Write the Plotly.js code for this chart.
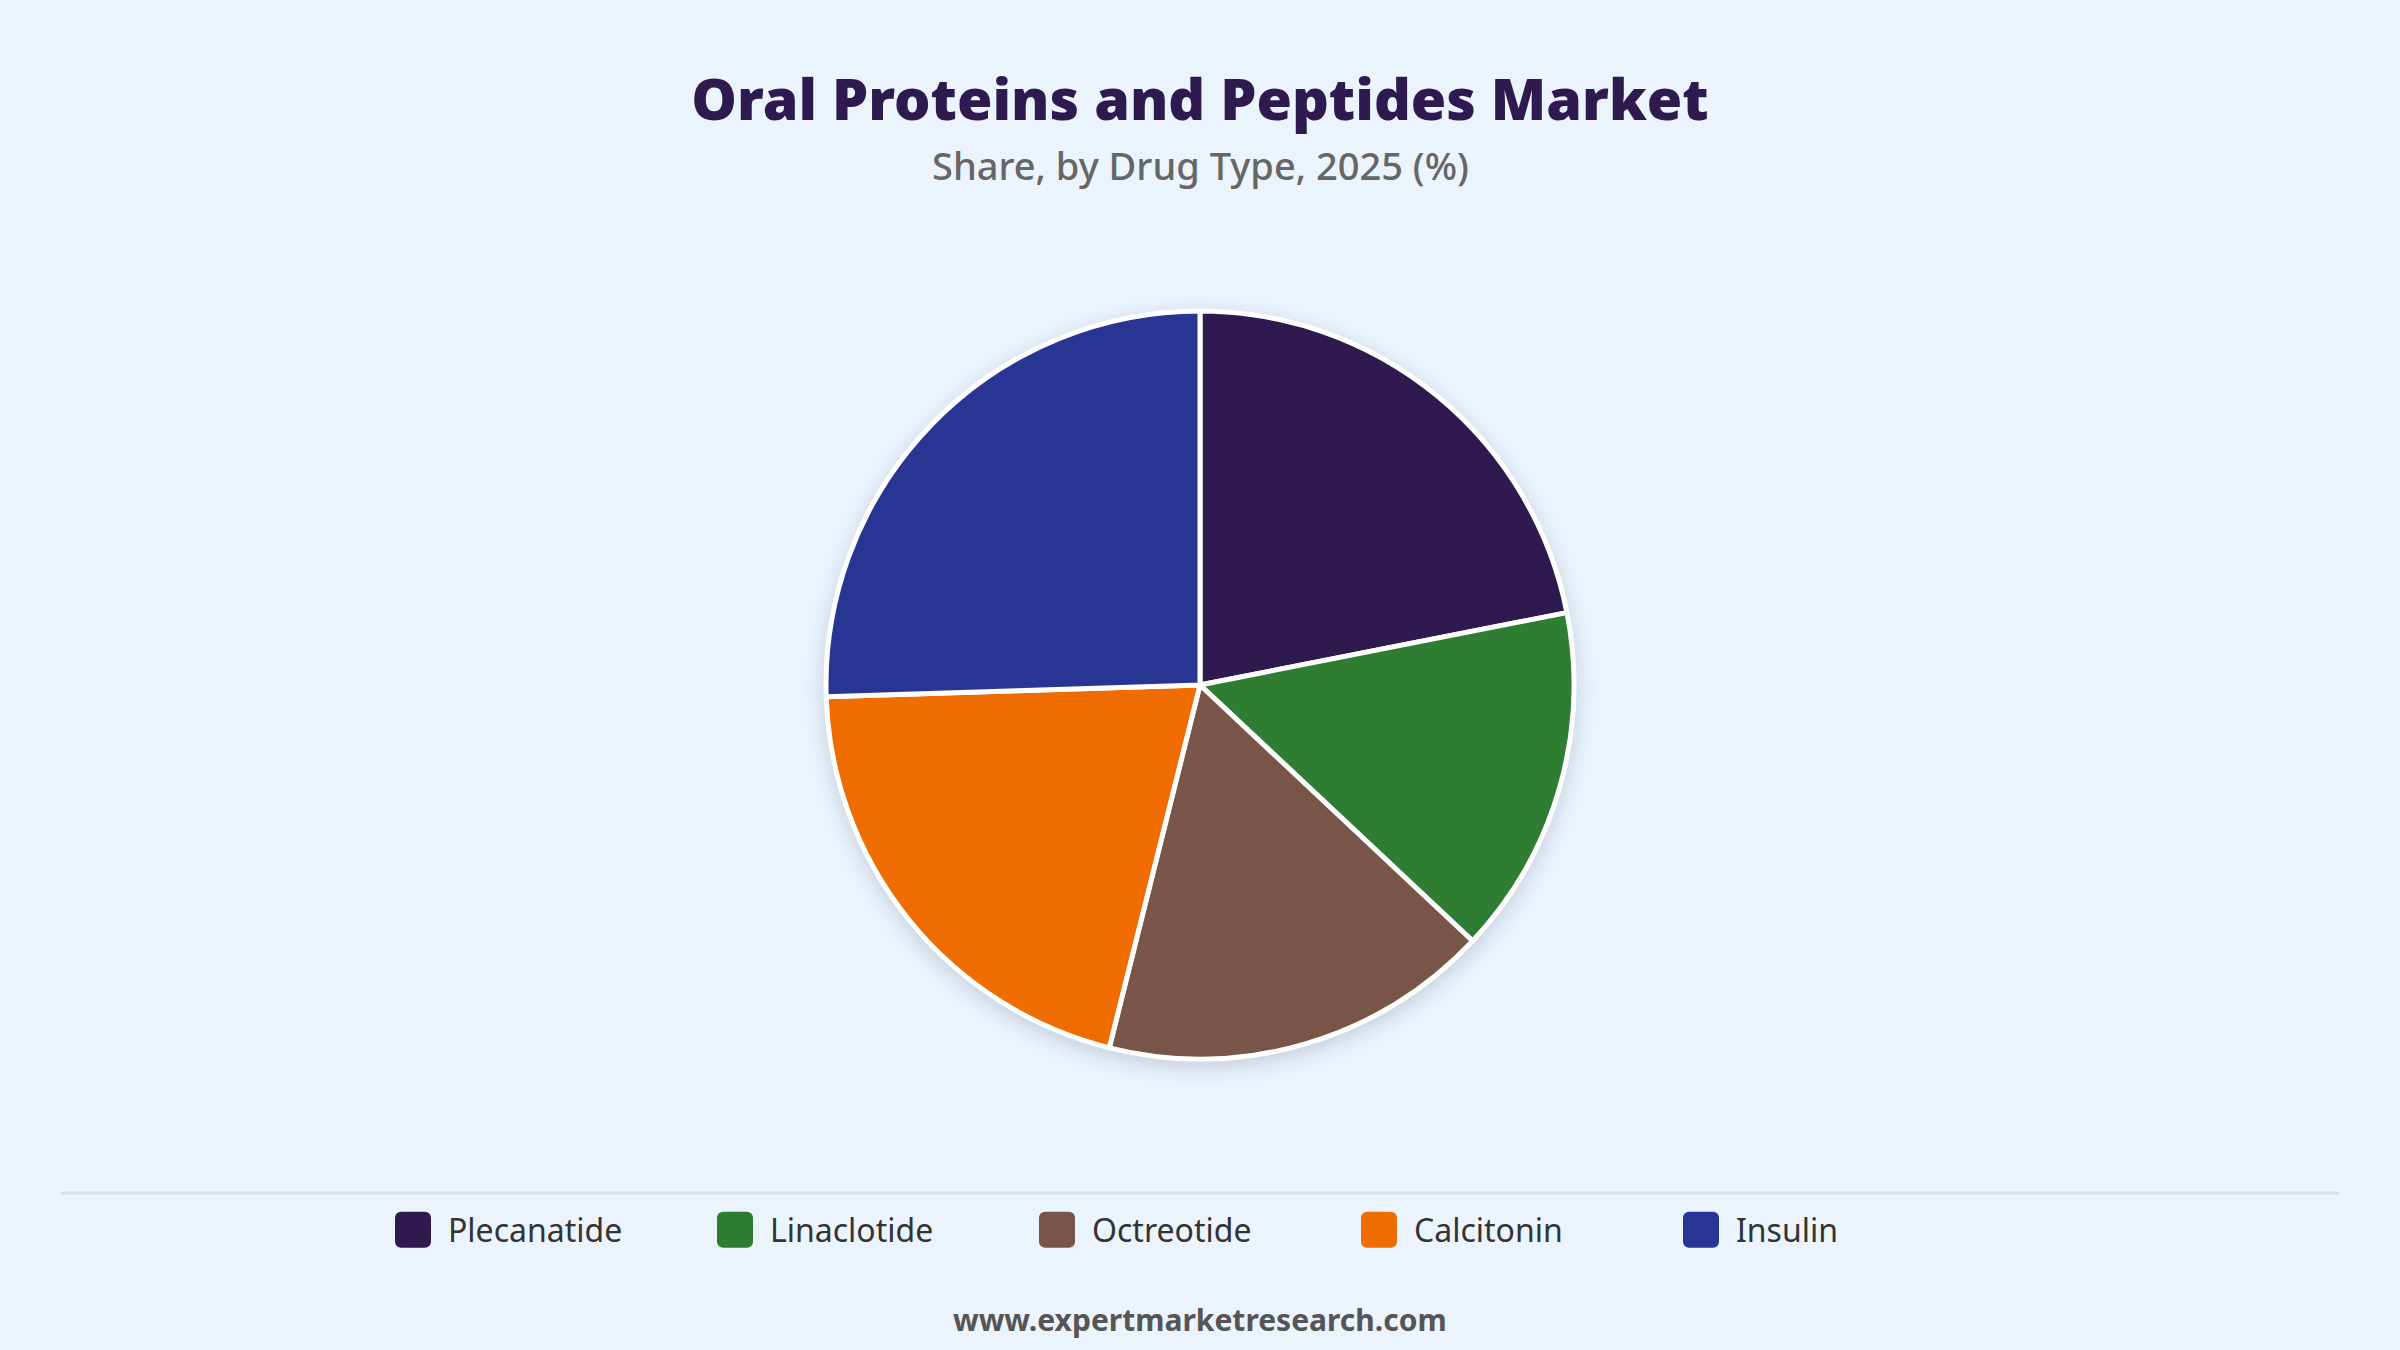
<!DOCTYPE html>
<html>
<head>
<meta charset="utf-8">
<script src="https://cdn.plot.ly/plotly-3.0.1.min.js"></script>
<style>
  html, body { margin: 0; padding: 0; background: #EBF3FC; }
  #chart { width: 2400px; height: 1350px; }
  .pielayer .trace { filter: drop-shadow(0px 6px 10px rgba(60, 80, 110, 0.22)); }
</style>
</head>
<body>
<div id="chart"></div>
<script>
const categories = ["Plecanatide", "Linaclotide", "Octreotide", "Calcitonin", "Insulin"];
const shares = [21.9, 15.1, 16.9, 20.6, 25.5];
const colors = ["#2E1A4F", "#2E7D32", "#795548", "#EF6C00", "#283593"];

const W = 2400, H = 1350;
const pieTop = 311, pieBottom = 1059;

const data = [{
  type: "pie",
  labels: categories,
  values: shares,
  sort: false,
  direction: "clockwise",
  rotation: 0,
  textinfo: "none",
  hoverinfo: "label+percent",
  marker: { colors: colors, line: { color: "#FFFFFF", width: 5 } },
  domain: { x: [0, 1], y: [1 - pieBottom / H, 1 - pieTop / H] }
}];

const layout = {
  width: W, height: H,
  margin: { l: 0, r: 0, t: 0, b: 0 },
  paper_bgcolor: "#EBF3FC",
  plot_bgcolor: "#EBF3FC",
  font: { family: "Noto Sans, Open Sans, sans-serif", color: "#333333" },
  title: {
    text: "Oral Proteins and Peptides Market",
    font: { family: "Noto Sans, Lato, sans-serif", size: 57.4, color: "#2E1A4F", weight: 900 },
    x: 0.5, xanchor: "center",
    y: 1 - 100 / H, yanchor: "middle",
    yref: "paper"
  },
  showlegend: true,
  legend: {
    orientation: "h",
    x: 378 / W, xanchor: "left",
    y: 1 - 1230 / H, yanchor: "middle",
    font: { family: "Noto Sans, Open Sans, sans-serif", size: 32, color: "#333333" },
    itemwidth: 60,
    entrywidth: 247,
    entrywidthmode: "pixels",
    bgcolor: "rgba(0,0,0,0)",
    traceorder: "normal",
    itemclick: false, itemdoubleclick: false
  },
  shapes: [{
    type: "line", xref: "paper", yref: "paper",
    x0: 61 / W, x1: 2339 / W, y0: 1 - 1193 / H, y1: 1 - 1193 / H,
    line: { color: "#DCDFE3", width: 3 }
  }],
  annotations: [
    {
      text: "Share, by Drug Type, 2025 (%)",
      xref: "paper", yref: "paper", x: 0.5, y: 1 - 165 / H,
      xanchor: "center", yanchor: "middle", showarrow: false,
      font: { family: "Noto Sans, Open Sans, sans-serif", size: 38, color: "#666666", weight: 500 }
    },
    {
      text: "<b>www.expertmarketresearch.com</b>",
      xref: "paper", yref: "paper", x: 0.5, y: 1 - 1319 / H,
      xanchor: "center", yanchor: "middle", showarrow: false,
      font: { family: "Noto Sans, Open Sans, sans-serif", size: 30, color: "#555555" }
    }
  ]
};

function styleLegend() {
  const s = 18, r = 6;
  const d = `M${-s + r},${-s}H${s - r}A${r},${r} 0 0 1 ${s},${-s + r}V${s - r}A${r},${r} 0 0 1 ${s - r},${s}H${-s + r}A${r},${r} 0 0 1 ${-s},${s - r}V${-s + r}A${r},${r} 0 0 1 ${-s + r},${-s}Z`;
  document.querySelectorAll("#chart .legend .legendpoints path").forEach(p => {
    p.setAttribute("d", d);
    p.style.strokeWidth = "0px";
    p.style.stroke = "none";
  });
}

Plotly.newPlot("chart", data, layout, { displayModeBar: false }).then(gd => {
  styleLegend();
  gd.on("plotly_afterplot", styleLegend);
});
</script>
</body>
</html>
